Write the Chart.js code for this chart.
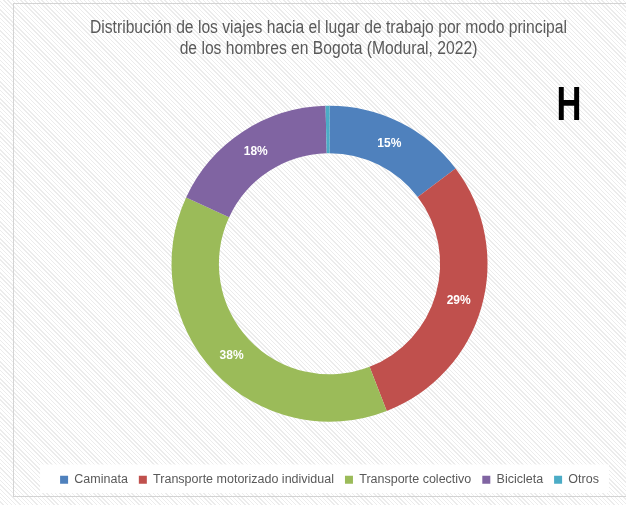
<!DOCTYPE html>
<html>
<head>
<meta charset="utf-8">
<script src="https://cdn.jsdelivr.net/npm/chart.js@4.4.0/dist/chart.umd.min.js"></script>
<style>
  html, body { margin: 0; padding: 0; background: #fff; }
  #wrap {
    position: relative;
    width: 626px;
    height: 505px;
    background: repeating-linear-gradient(45deg, #ffffff 0px, #ffffff 2px, #ececec 2px, #ececec 3px);
  }
  #frame {
    position: absolute;
    left: 13px; top: 3px; width: 620px; height: 494px;
    border: 1px solid #d4d4d4;
    box-sizing: border-box;
  }
  canvas { position: absolute; left: 0; top: 0; }
</style>
</head>
<body>
<div id="wrap">
  <div id="frame"></div>
  <canvas id="chart" width="626" height="505"></canvas>
</div>
<script>
const titleLines = [
  'Distribución de los viajes hacia el lugar de trabajo por modo principal',
  'de los hombres en Bogota (Modural, 2022)'
];
const categories = ['Caminata', 'Transporte motorizado individual', 'Transporte colectivo', 'Bicicleta', 'Otros'];
const shares = [14.7, 29.4, 37.8, 17.7, 0.4];
const colors = ['#4f81bd', '#c0504d', '#9bbb59', '#8064a2', '#4bacc6'];
const panelLetter = 'H';

const FONT = "'Liberation Sans', Arial, sans-serif";

// white box behind the legend
const legendBg = {
  id: 'legendBg',
  beforeDraw(chart) {
    const lg = chart.legend;
    if (!lg || !lg.legendHitBoxes.length) return;
    const boxes = lg.legendHitBoxes;
    const l = Math.min(...boxes.map((b) => b.left));
    const r = Math.max(...boxes.map((b) => b.left + b.width));
    const t = boxes[0].top;
    const ctx = chart.ctx;
    ctx.save();
    ctx.fillStyle = '#ffffff';
    ctx.fillRect(l - 20, t - 9, r - l + 30, boxes[0].height + 16);
    ctx.restore();
  }
};

// narrow title (drawn squeezed, no narrow font installed)
const narrowTitle = {
  id: 'narrowTitle',
  afterDraw(chart) {
    const ctx = chart.ctx;
    ctx.save();
    ctx.fillStyle = '#595959';
    ctx.font = '18px ' + FONT;
    ctx.textAlign = 'center';
    ctx.textBaseline = 'middle';
    titleLines.forEach((line, i) => {
      ctx.save();
      ctx.translate(328.5, 28 + i * 21);
      ctx.scale(0.87, 1);
      ctx.fillText(line, 0, 0);
      ctx.restore();
    });
    ctx.restore();
  }
};

// percentage labels in the ring + panel letter
const sliceLabels = {
  id: 'sliceLabels',
  afterDatasetsDraw(chart) {
    const ctx = chart.ctx;
    const meta = chart.getDatasetMeta(0);
    ctx.save();
    ctx.fillStyle = '#ffffff';
    ctx.font = 'bold 12px ' + FONT;
    ctx.textAlign = 'center';
    ctx.textBaseline = 'middle';
    meta.data.forEach((arc, i) => {
      const v = shares[i];
      if (v < 1) return;
      const p = arc.tooltipPosition();
      ctx.fillText(Math.round(v) + '%', p.x, p.y);
    });
    ctx.restore();

    ctx.save();
    ctx.fillStyle = '#000000';
    ctx.font = 'bold 48px ' + FONT;
    ctx.textAlign = 'center';
    ctx.textBaseline = 'alphabetic';
    ctx.translate(569, 120);
    ctx.scale(0.72, 1);
    ctx.fillText(panelLetter, 0, 0);
    ctx.restore();
  }
};

new Chart(document.getElementById('chart'), {
  type: 'doughnut',
  data: {
    labels: categories,
    datasets: [{
      data: shares,
      backgroundColor: colors,
      borderWidth: 0,
      radius: 158,
      cutout: '70%'
    }]
  },
  options: {
    responsive: false,
    animation: false,
    devicePixelRatio: 1,
    layout: { padding: { left: 33, right: 0, top: 65, bottom: 9 } },
    plugins: {
      title: { display: false },
      legend: {
        position: 'bottom',
        labels: {
          color: '#595959',
          font: { family: FONT, size: 12.5 },
          boxWidth: 8,
          boxHeight: 8,
          padding: 11
        }
      },
      tooltip: { enabled: false }
    }
  },
  plugins: [legendBg, sliceLabels, narrowTitle]
});
</script>
</body>
</html>
